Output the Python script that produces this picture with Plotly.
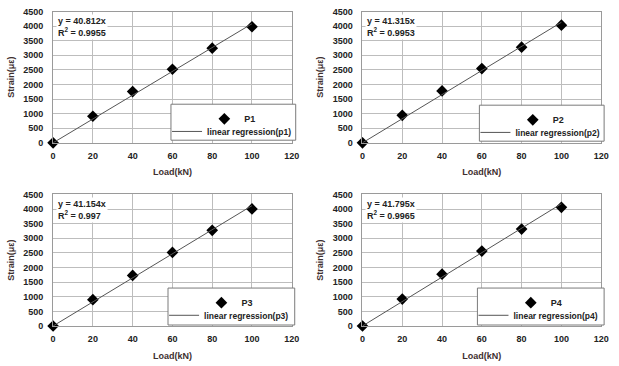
import plotly.graph_objects as go

loads = [0, 20, 40, 60, 80, 100]
strain_p1 = [0, 911, 1756, 2522, 3244, 3978]
strain_p2 = [0, 944, 1778, 2544, 3278, 4033]
strain_p3 = [0, 898, 1729, 2516, 3270, 4001]
strain_p4 = [0, 920, 1773, 2560, 3314, 4057]
slopes = [40.812, 41.315, 41.154, 41.795]
r2_labels = ["0.9955", "0.9953", "0.997", "0.9965"]
series_names = ["P1", "P2", "P3", "P4"]
fit_names = ["linear regression(p1)", "linear regression(p2)", "linear regression(p3)", "linear regression(p4)"]
x_ticks = [0, 20, 40, 60, 80, 100, 120]
y_ticks = [0, 500, 1000, 1500, 2000, 2500, 3000, 3500, 4000, 4500]

all_strain = [strain_p1, strain_p2, strain_p3, strain_p4]

W, H = 619, 366
# panel pixel boxes: (left, right, top, bottom)
boxes = [(51, 294, 6.7, 141.7), (366, 609, 6.7, 141.7),
         (51, 294, 194.7, 330), (366, 609, 194.7, 330)]
# legend frame pixel boxes: (left, right, top, bottom)
leg_boxes = [(171, 298, 102, 139), (485, 612, 103, 140),
             (168, 297, 291, 329), (483, 612, 291, 329)]

FONT = "Liberation Sans"
TXT = "#222"
TITLE_C = "#3e3030"
fig = go.Figure()
layout = dict(width=W, height=H, margin=dict(l=0, r=0, t=0, b=0),
              paper_bgcolor="white", plot_bgcolor="white", showlegend=True,
              font=dict(family=FONT, size=9, color=TXT))
annotations = []
shapes = []
for i in range(4):
    L, R, T, B = boxes[i]
    xa = "xaxis" if i == 0 else f"xaxis{i+1}"
    ya = "yaxis" if i == 0 else f"yaxis{i+1}"
    xr = "x" if i == 0 else f"x{i+1}"
    yr = "y" if i == 0 else f"y{i+1}"
    lgA = "legend" if i == 0 else f"legend{2*i+1}"
    lgB = f"legend{2*i+2}"
    layout[xa] = dict(domain=[L / W, R / W], anchor=yr, range=[0, 120], tickvals=x_ticks,
                      showgrid=True, gridcolor="#bdbdbd", gridwidth=1,
                      showline=True, linecolor="#9a9a9a", mirror=True, zeroline=False,
                      ticks="", ticklabelstandoff=4,
                      tickfont=dict(family=FONT, size=9, color=TXT, weight="bold"),
                      title=dict(text="Load(kN)", font=dict(family=FONT, size=9, color=TITLE_C, weight="bold"), standoff=9))
    layout[ya] = dict(domain=[1 - B / H, 1 - T / H], anchor=xr, range=[0, 4500], tickvals=y_ticks,
                      showgrid=True, gridcolor="#bdbdbd", gridwidth=1,
                      showline=True, linecolor="#9a9a9a", mirror=True, zeroline=False,
                      ticks="", ticklabelstandoff=7,
                      tickfont=dict(family=FONT, size=9, color=TXT, weight="bold"),
                      title=dict(text="Strain(με)", font=dict(family=FONT, size=9, color=TITLE_C, weight="bold"), standoff=7))
    bl, br, bt, bb = leg_boxes[i]
    shapes.append(dict(type="rect", xref="paper", yref="paper",
                       x0=bl / W, x1=br / W, y0=1 - bb / H, y1=1 - bt / H,
                       line=dict(color="#7a7a7a", width=1), fillcolor="white", layer="above"))
    # marker legend item (centered in the frame)
    layout[lgA] = dict(x=(bl + 34) / W, y=1 - (bt + 15) / H, xanchor="left", yanchor="middle",
                       bgcolor="rgba(0,0,0,0)", borderwidth=0, itemwidth=30,
                       font=dict(family=FONT, size=9, color=TXT, weight="bold"))
    # regression line legend item
    layout[lgB] = dict(x=(bl - 4) / W, y=1 - (bt + 28) / H, xanchor="left", yanchor="middle",
                       bgcolor="rgba(0,0,0,0)", borderwidth=0, itemwidth=30,
                       font=dict(family=FONT, size=8.5, color=TXT, weight="bold"))
    fig.add_trace(go.Scatter(x=loads, y=all_strain[i], mode="markers", name=series_names[i],
                             marker=dict(symbol="diamond", size=9, color="black"),
                             xaxis=xr, yaxis=yr, legend=lgA, cliponaxis=False))
    fit_y = [slopes[i] * x for x in loads]
    fig.add_trace(go.Scatter(x=loads, y=fit_y, mode="lines", name=fit_names[i],
                             line=dict(color="#555", width=1),
                             xaxis=xr, yaxis=yr, legend=lgB))
    annotations.append(dict(x=(L + 3) / W, y=1 - (T + 3) / H, xref="paper", yref="paper",
                            xanchor="left", yanchor="top", align="left", showarrow=False,
                            text=f"<b>y = {slopes[i]:.3f}x<br>R<sup>2</sup> = {r2_labels[i]}</b>",
                            bgcolor="white", font=dict(family=FONT, size=9, color=TXT)))
layout["annotations"] = annotations
layout["shapes"] = shapes
fig.update_layout(**layout)
fig.write_html("out.html")
